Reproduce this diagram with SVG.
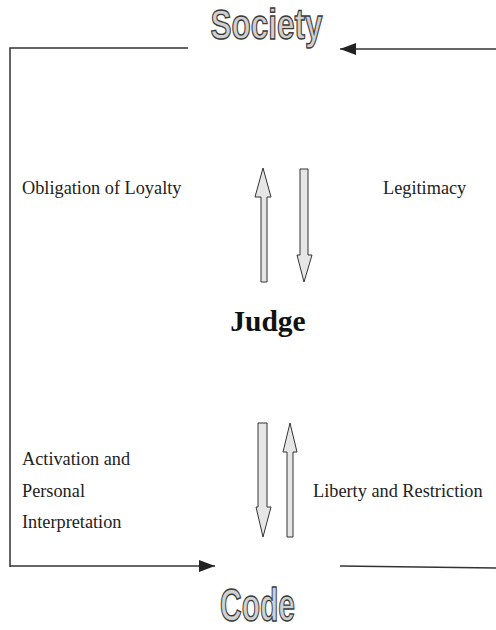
<svg xmlns="http://www.w3.org/2000/svg" width="496" height="630" viewBox="0 0 496 630">
<style>
.t{font-family:"Liberation Sans",Arial,sans-serif;font-size:18.3px;fill:#222}
.t{font-family:"Liberation Serif",serif}
.big{font-family:"Liberation Sans",Arial,sans-serif;font-weight:bold;fill:#d0d0d0;stroke:#3a3a3a;stroke-width:1.4;paint-order:normal}
.ln{stroke:#333;stroke-width:1.5;fill:none}
.ar{fill:#e6e6e6;stroke:#333;stroke-width:1}
</style>
<defs>
<marker id="ah" viewBox="0 0 16 12" refX="16" refY="6" markerWidth="16" markerHeight="12" markerUnits="userSpaceOnUse" orient="auto"><path d="M0,0 L16,6 L0,12 Z" fill="#222"/></marker>
</defs>
<g id="society"><text class="big" x="266.5" y="39" font-size="43" text-anchor="middle" textLength="112" lengthAdjust="spacingAndGlyphs">Society</text></g>
<g id="code"><text class="big" x="257.5" y="621" font-size="46" text-anchor="middle" textLength="75" lengthAdjust="spacingAndGlyphs">Code</text></g>
<g id="judge"><text x="268" y="331" text-anchor="middle" font-family="Liberation Serif,serif" font-weight="bold" font-size="29.5" fill="#111">Judge</text></g>
<g id="labels">
<text class="t" x="22" y="194">Obligation of Loyalty</text>
<text class="t" x="383" y="194">Legitimacy</text>
<text class="t" x="22" y="465">Activation and</text>
<text class="t" x="22" y="497">Personal</text>
<text class="t" x="22" y="528">Interpretation</text>
<text class="t" x="313" y="497">Liberty and Restriction</text>
</g>
<g id="connectors">
<path class="ln" d="M188,48 L10,48 L10,567"/>
<path class="ln" d="M10,566 L215,566" marker-end="url(#ah)"/>
<path class="ln" d="M496,49 L340,49" marker-end="url(#ah)"/>
<path class="ln" d="M340,566 L496,568"/>
<path class="ar" d="M261,282 L261,197 L255,197 L263,168 L271,197 L267,197 L267,282 Z"/>
<path class="ar" d="M300,169 L308,169 L308,255 L312,255 L304,282 L297,255 L300,255 Z"/>
<path class="ar" d="M258,423 L267,423 L267,507 L271,507 L263,537 L256,507 L258,507 Z"/>
<path class="ar" d="M287,537 L287,452 L283,452 L290,423 L297,452 L293,452 L293,537 Z"/>
</g>
</svg>
